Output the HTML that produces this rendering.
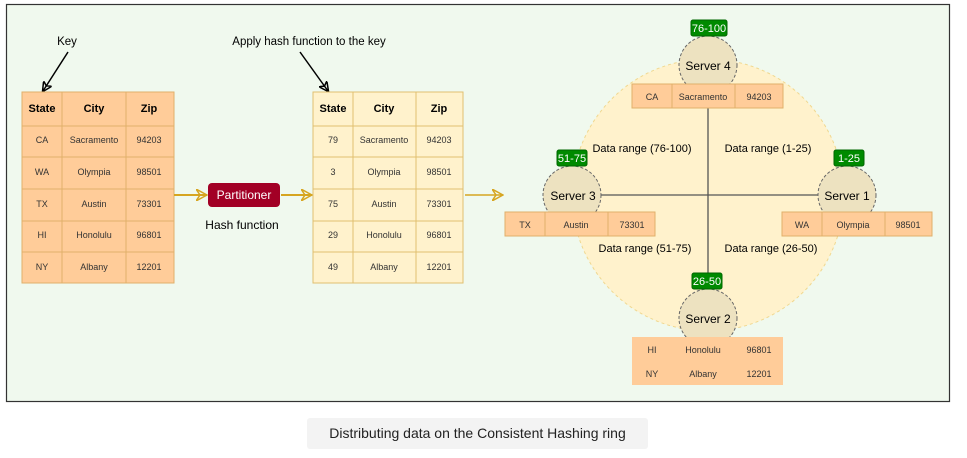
<!DOCTYPE html>
<html><head><meta charset="utf-8"><style>
html,body{margin:0;padding:0;background:#fff;width:967px;height:458px;overflow:hidden}
svg{display:block}
text{font-family:"Liberation Sans",sans-serif}
</style></head><body>
<svg width="967" height="458" viewBox="0 0 967 458" xmlns="http://www.w3.org/2000/svg">
<defs>
<marker id="ah" markerWidth="10" markerHeight="10" refX="9" refY="5" orient="auto" markerUnits="userSpaceOnUse"><path d="M0,0 L10,5 L0,10 L3,5 Z" fill="none" stroke="#000" stroke-width="1.5"/></marker>
<marker id="ag" markerWidth="12" markerHeight="12" refX="11" refY="6" orient="auto" markerUnits="userSpaceOnUse"><path d="M0,0 L11,6 L0,12 L4,6 Z" fill="none" stroke="#d6a520" stroke-width="1.5"/></marker>
</defs>
<rect x="6.5" y="4.5" width="943" height="397" fill="#f0f9ee" stroke="#333" stroke-width="1.2"/>
<rect x="307" y="418" width="341" height="31" rx="3" fill="#f3f3f3"/>
<text x="477.5" y="438" font-size="14" text-anchor="middle" fill="#222">Distributing data on the Consistent Hashing ring</text>

<text x="67" y="45" font-size="11.5" text-anchor="middle" fill="#000">Key</text>
<line x1="68" y1="52" x2="43" y2="91" stroke="#000" stroke-width="1.5" marker-end="url(#ah)"/>
<text x="309" y="45" font-size="11.5" text-anchor="middle" fill="#000">Apply hash function to the key</text>
<line x1="300" y1="52" x2="328" y2="91" stroke="#000" stroke-width="1.5" marker-end="url(#ah)"/>

<g font-size="9" text-anchor="middle" fill="#333">
<rect x="22" y="92" width="152" height="191" fill="#ffcc99" stroke="#e0b06a"/>
<g stroke="#e0b06a"><line x1="62" y1="92" x2="62" y2="283"/><line x1="126" y1="92" x2="126" y2="283"/>
<line x1="22" y1="126" x2="174" y2="126"/><line x1="22" y1="157" x2="174" y2="157"/><line x1="22" y1="189" x2="174" y2="189"/><line x1="22" y1="221" x2="174" y2="221"/><line x1="22" y1="252" x2="174" y2="252"/></g>
<g font-weight="bold" font-size="11" fill="#000"><text x="42" y="112">State</text><text x="94" y="112">City</text><text x="149" y="112">Zip</text></g>
<text x="42" y="143">CA</text><text x="94" y="143">Sacramento</text><text x="149" y="143">94203</text>
<text x="42" y="175">WA</text><text x="94" y="175">Olympia</text><text x="149" y="175">98501</text>
<text x="42" y="207">TX</text><text x="94" y="207">Austin</text><text x="149" y="207">73301</text>
<text x="42" y="238">HI</text><text x="94" y="238">Honolulu</text><text x="149" y="238">96801</text>
<text x="42" y="270">NY</text><text x="94" y="270">Albany</text><text x="149" y="270">12201</text>

<rect x="313" y="92" width="150" height="191" fill="#fff2cc" stroke="#e0c070"/>
<g stroke="#e0c070"><line x1="353" y1="92" x2="353" y2="283"/><line x1="416" y1="92" x2="416" y2="283"/>
<line x1="313" y1="126" x2="463" y2="126"/><line x1="313" y1="157" x2="463" y2="157"/><line x1="313" y1="189" x2="463" y2="189"/><line x1="313" y1="221" x2="463" y2="221"/><line x1="313" y1="252" x2="463" y2="252"/></g>
<g font-weight="bold" font-size="11" fill="#000"><text x="333" y="112">State</text><text x="384" y="112">City</text><text x="439" y="112">Zip</text></g>
<text x="333" y="143">79</text><text x="384" y="143">Sacramento</text><text x="439" y="143">94203</text>
<text x="333" y="175">3</text><text x="384" y="175">Olympia</text><text x="439" y="175">98501</text>
<text x="333" y="207">75</text><text x="384" y="207">Austin</text><text x="439" y="207">73301</text>
<text x="333" y="238">29</text><text x="384" y="238">Honolulu</text><text x="439" y="238">96801</text>
<text x="333" y="270">49</text><text x="384" y="270">Albany</text><text x="439" y="270">12201</text>
</g>

<line x1="174" y1="195" x2="207" y2="195" stroke="#d6a520" stroke-width="2" marker-end="url(#ag)"/>
<line x1="281" y1="195" x2="312" y2="195" stroke="#d6a520" stroke-width="2" marker-end="url(#ag)"/>
<line x1="465" y1="195" x2="503" y2="195" stroke="#d6a520" stroke-width="1.5" marker-end="url(#ag)"/>
<rect x="208" y="183" width="72" height="24" rx="4" fill="#a20025"/>
<text x="244" y="199" font-size="12" text-anchor="middle" fill="#fff">Partitioner</text>
<text x="242" y="229" font-size="12" text-anchor="middle" fill="#000">Hash function</text>

<circle cx="708" cy="195" r="136" fill="#fff2cc" stroke="#f0d890" stroke-dasharray="3,3"/>
<line x1="572" y1="195" x2="847" y2="195" stroke="#555" stroke-width="1.3"/>
<line x1="708" y1="65" x2="708" y2="318" stroke="#555" stroke-width="1.3"/>
<g fill="#ede2c0" stroke="#666" stroke-dasharray="3,2">
<circle cx="708" cy="65" r="29"/><circle cx="572" cy="195" r="29"/><circle cx="847" cy="195" r="29"/><circle cx="708" cy="318" r="29"/></g>
<g font-size="12" text-anchor="middle" fill="#000">
<text x="708" y="70">Server 4</text><text x="573" y="200">Server 3</text><text x="847" y="200">Server 1</text><text x="708" y="323">Server 2</text>
</g>
<g font-size="11" text-anchor="middle" fill="#000">
<text x="642" y="152">Data range (76-100)</text><text x="768" y="152">Data range (1-25)</text>
<text x="645" y="252">Data range (51-75)</text><text x="771" y="252">Data range (26-50)</text>
</g>
<g fill="#008a00" stroke="#006600">
<rect x="691" y="20" width="36" height="16" rx="2"/><rect x="557" y="150" width="30" height="16" rx="2"/><rect x="834" y="150" width="30" height="16" rx="2"/><rect x="692" y="273" width="30" height="16" rx="2"/></g>
<g font-size="11" text-anchor="middle" fill="#fff">
<text x="709" y="32">76-100</text><text x="572" y="162">51-75</text><text x="849" y="162">1-25</text><text x="707" y="285">26-50</text></g>

<g font-size="9" text-anchor="middle" fill="#333">
<rect x="632" y="84" width="151" height="24" fill="#ffcc99" stroke="#e0b06a"/>
<line x1="672" y1="84" x2="672" y2="108" stroke="#e0b06a"/><line x1="735" y1="84" x2="735" y2="108" stroke="#e0b06a"/>
<text x="652" y="100">CA</text><text x="703" y="100">Sacramento</text><text x="759" y="100">94203</text>
<rect x="505" y="212" width="150" height="24" fill="#ffcc99" stroke="#e0b06a"/>
<line x1="545" y1="212" x2="545" y2="236" stroke="#e0b06a"/><line x1="608" y1="212" x2="608" y2="236" stroke="#e0b06a"/>
<text x="525" y="228">TX</text><text x="576" y="228">Austin</text><text x="632" y="228">73301</text>
<rect x="782" y="212" width="150" height="24" fill="#ffcc99" stroke="#e0b06a"/>
<line x1="822" y1="212" x2="822" y2="236" stroke="#e0b06a"/><line x1="885" y1="212" x2="885" y2="236" stroke="#e0b06a"/>
<text x="802" y="228">WA</text><text x="853" y="228">Olympia</text><text x="908" y="228">98501</text>
<rect x="632" y="337" width="151" height="48" fill="#ffcc99"/>
<text x="652" y="353">HI</text><text x="703" y="353">Honolulu</text><text x="759" y="353">96801</text>
<text x="652" y="377">NY</text><text x="703" y="377">Albany</text><text x="759" y="377">12201</text>
</g>
</svg>
</body></html>
